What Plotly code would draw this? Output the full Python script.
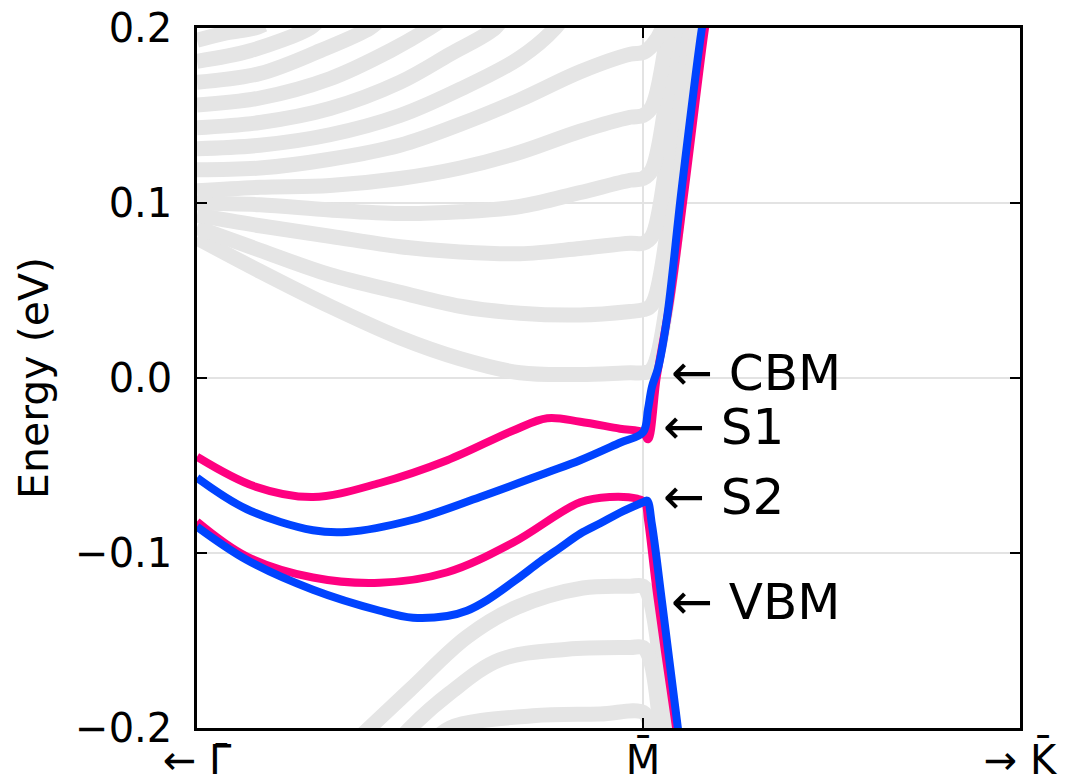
import plotly.graph_objects as go

# k along the path in units of |Gamma-M| window (M at 1.0), energies in eV
K_RIGHT = 1.845

# ---- colored surface-state bands ----
s1_pink_k = [0.000, 0.130, 0.260, 0.410, 0.561, 0.709, 0.785, 0.859, 0.948, 1.000, 1.011, 1.031, 1.061, 1.094, 1.139, 1.146]
s1_pink_e = [-0.045, -0.062, -0.068, -0.060, -0.047, -0.030, -0.023, -0.025, -0.029, -0.031, -0.035, 0.001, 0.045, 0.109, 0.200, 0.210]

s1_blue_k = [0.000, 0.112, 0.260, 0.336, 0.484, 0.635, 0.785, 0.859, 0.948, 1.000, 1.011, 1.020, 1.034, 1.054, 1.087, 1.132, 1.139]
s1_blue_e = [-0.057, -0.075, -0.087, -0.088, -0.081, -0.068, -0.054, -0.047, -0.037, -0.031, -0.018, -0.005, 0.006, 0.035, 0.109, 0.200, 0.210]

s2_pink_k = [0.000, 0.112, 0.260, 0.410, 0.561, 0.709, 0.859, 0.926, 0.987, 1.004, 1.011, 1.031, 1.074, 1.080]
s2_pink_e = [-0.082, -0.102, -0.114, -0.117, -0.111, -0.094, -0.071, -0.068, -0.069, -0.071, -0.081, -0.123, -0.200, -0.210]

s2_blue_k = [0.000, 0.112, 0.260, 0.410, 0.484, 0.561, 0.605, 0.650, 0.717, 0.769, 0.814, 0.859, 0.904, 0.948, 1.000, 1.009, 1.020, 1.043, 1.078, 1.085]
s2_blue_e = [-0.085, -0.104, -0.121, -0.133, -0.137, -0.136, -0.133, -0.127, -0.115, -0.105, -0.097, -0.089, -0.083, -0.077, -0.071, -0.070, -0.084, -0.129, -0.200, -0.213]

# ---- bulk-projected (grey) conduction subbands ----
cond_k = [
    [0.000, 0.141, 0.298, 0.455, 0.590, 0.724, 0.859, 0.971, 1.000, 1.020, 1.121, 1.128],
    [0.000, 0.141, 0.298, 0.455, 0.590, 0.724, 0.859, 0.971, 1.000, 1.020, 1.105, 1.112],
    [0.000, 0.141, 0.298, 0.455, 0.590, 0.724, 0.859, 0.971, 1.000, 1.020, 1.087, 1.092],
    [0.000, 0.141, 0.298, 0.455, 0.590, 0.724, 0.859, 0.971, 1.000, 1.020, 1.072, 1.076],
    [0.000, 0.141, 0.298, 0.455, 0.590, 0.724, 0.859, 0.971, 1.000, 1.020, 1.056, 1.060],
    [0.000, 0.141, 0.298, 0.455, 0.590, 0.724, 0.859, 0.971, 1.000, 1.020, 1.043, 1.047],
    [0.000, 0.141, 0.298, 0.455, 0.590, 0.724, 0.803, 0.830],
    [0.000, 0.141, 0.298, 0.455, 0.567, 0.668, 0.690],
    [0.000, 0.141, 0.298, 0.433, 0.522, 0.545],
    [0.000, 0.141, 0.276, 0.388, 0.410],
    [0.000, 0.119, 0.253, 0.275],
    [0.000, 0.063, 0.130, 0.150],
]
cond_e = [
    [0.080, 0.061, 0.041, 0.023, 0.011, 0.003, 0.002, 0.003, 0.003, 0.005, 0.200, 0.210],
    [0.086, 0.073, 0.059, 0.049, 0.041, 0.037, 0.036, 0.038, 0.039, 0.042, 0.200, 0.210],
    [0.093, 0.087, 0.081, 0.075, 0.072, 0.071, 0.074, 0.077, 0.077, 0.081, 0.200, 0.210],
    [0.100, 0.099, 0.096, 0.094, 0.095, 0.098, 0.106, 0.113, 0.114, 0.119, 0.200, 0.210],
    [0.107, 0.109, 0.110, 0.114, 0.120, 0.129, 0.141, 0.149, 0.150, 0.155, 0.200, 0.210],
    [0.119, 0.120, 0.125, 0.133, 0.145, 0.159, 0.175, 0.185, 0.186, 0.190, 0.200, 0.210],
    [0.131, 0.133, 0.139, 0.150, 0.165, 0.183, 0.200, 0.210],
    [0.143, 0.146, 0.154, 0.169, 0.185, 0.200, 0.208],
    [0.156, 0.160, 0.171, 0.187, 0.200, 0.204],
    [0.169, 0.174, 0.187, 0.200, 0.205],
    [0.181, 0.187, 0.200, 0.205],
    [0.193, 0.197, 0.200, 0.202],
]

# ---- bulk-projected (grey) valence subbands ----
val_k = [
    [0.332, 0.478, 0.605, 0.717, 0.865, 0.971, 1.000, 1.016, 1.056, 1.063],
    [0.433, 0.478, 0.567, 0.679, 0.830, 0.971, 1.000, 1.016, 1.043],
    [0.522, 0.567, 0.753, 0.904, 1.000, 1.016, 1.027],
]
val_e = [
    [-0.213, -0.178, -0.148, -0.131, -0.120, -0.119, -0.119, -0.127, -0.200, -0.213],
    [-0.213, -0.200, -0.180, -0.161, -0.155, -0.154, -0.154, -0.161, -0.213],
    [-0.210, -0.200, -0.193, -0.192, -0.191, -0.198, -0.213],
]

# ---- labels ----
x_tickvals = [0.0, 1.0, K_RIGHT]
x_ticktext = ["\u2190 \u0393\u0304", "M\u0304", "\u2192 K\u0304"]
y_tickvals = [-0.2, -0.1, 0.0, 0.1, 0.2]

state_labels = ["\u2190 CBM", "\u2190 S1", "\u2190 S2", "\u2190 VBM"]
state_label_k = [1.058, 1.040, 1.040, 1.058]
state_label_e = [0.003, -0.028, -0.068, -0.128]

GREY = "#e5e5e5"
PINK = "#ff0080"
BLUE = "#0043ff"
FONT = "DejaVu Sans"

fig = go.Figure()

for ks, es in zip(cond_k + val_k, cond_e + val_e):
    fig.add_trace(go.Scatter(x=ks, y=es, mode="lines",
                             line=dict(color=GREY, width=15, shape="spline", smoothing=1.0),
                             hoverinfo="skip", showlegend=False))

for ks, es, col in [(s1_pink_k, s1_pink_e, PINK), (s2_pink_k, s2_pink_e, PINK),
                    (s1_blue_k, s1_blue_e, BLUE), (s2_blue_k, s2_blue_e, BLUE)]:
    fig.add_trace(go.Scatter(x=ks, y=es, mode="lines",
                             line=dict(color=col, width=8, shape="spline", smoothing=1.0),
                             showlegend=False))

for txt, kx, ey in zip(state_labels, state_label_k, state_label_e):
    fig.add_annotation(x=kx, y=ey, text=txt, showarrow=False, xanchor="left",
                       yanchor="middle", font=dict(family=FONT, size=50, color="black"))

axis_common = dict(showline=True, linecolor="black", linewidth=2.5, mirror="ticks",
                   ticks="inside", ticklen=10, tickwidth=2, tickcolor="black",
                   showgrid=True, gridcolor="#e3e3e3", gridwidth=1.5, zeroline=False,
                   automargin=False,
                   tickfont=dict(family=FONT, size=40, color="black"))

fig.update_xaxes(range=[0, K_RIGHT], tickvals=x_tickvals, ticktext=x_ticktext,
                 ticklabelstandoff=-5, **axis_common)
fig.update_yaxes(range=[-0.2, 0.2], tickvals=y_tickvals, tickformat=".1f",
                 ticklabelstandoff=14,
                 title=dict(text="Energy (eV)", font=dict(family=FONT, size=41, color="black"),
                            standoff=14),
                 **axis_common)

fig.update_layout(width=1065, height=775, margin=dict(l=197, r=45, t=28, b=47),
                  plot_bgcolor="white", paper_bgcolor="white")

fig.write_html("out.html")
